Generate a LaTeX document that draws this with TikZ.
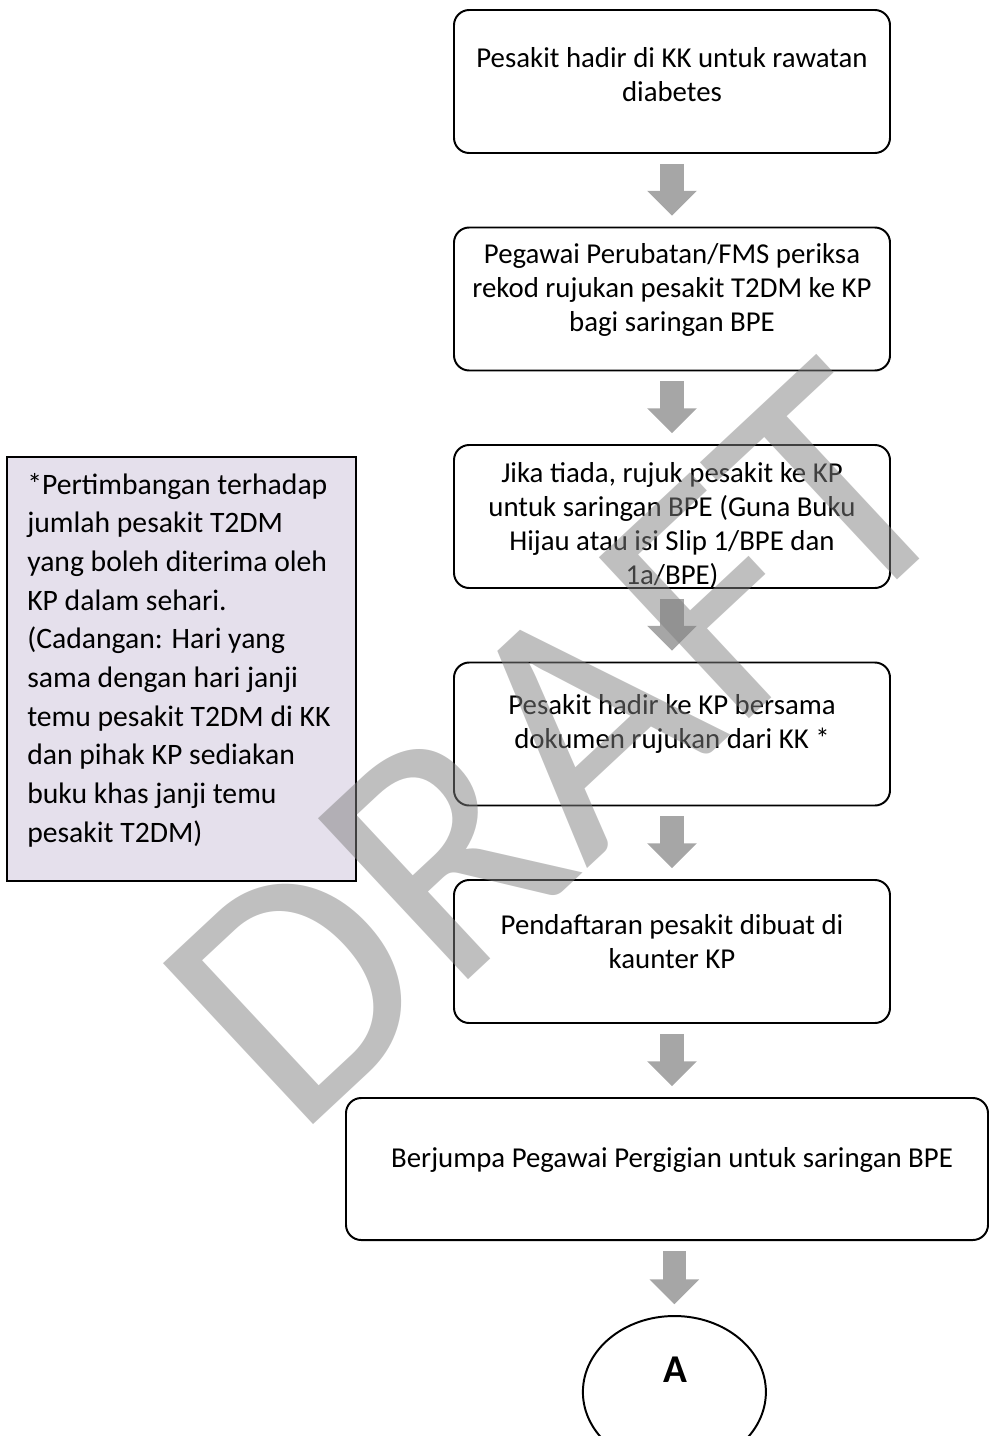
\documentclass[tikz,border=0pt]{standalone}
\usepackage{fontspec}
\setmainfont{Carlito}
\usetikzlibrary{arrows.meta, positioning, shapes.geometric}
\definecolor{arrowgrey}{RGB}{166,166,166}
\definecolor{notelilac}{RGB}{229,224,236}

\begin{document}
\begin{tikzpicture}[
    flowbox/.style={rectangle, draw=black, line width=1.4pt,
                    rounded corners=0.38cm, minimum width=10.9cm,
                    minimum height=3.575cm, inner sep=0pt},
    boxtext/.style={align=center, font=\fontsize{20.5}{24.2}\selectfont,
                    inner sep=0pt},
    notebox/.style={rectangle, draw=black, line width=1.1pt,
                    fill=notelilac, minimum width=8.725cm,
                    minimum height=10.6cm, inner sep=0pt},
    notetext/.style={align=left, font=\fontsize{21.1}{27.5}\selectfont,
                     inner sep=0pt, anchor=west},
    terminal/.style={ellipse, draw=black, line width=1.4pt,
                     minimum width=4.575cm, minimum height=3.8cm,
                     inner sep=0pt},
    bigarrow/.style={-{Triangle[length=6.2mm 0, width=12mm 0]},
                     line width=5.8mm, draw=arrowgrey,
                     shorten <=2.5mm, shorten >=2.7mm},
    watermark/.style={font=\fontsize{244}{244}\selectfont, text=black!50,
                      opacity=0.5, rotate=43, inner sep=0pt},
]
\useasboundingbox (0,0) rectangle (24.75,-35.9);

%---------------------------------------------------------------
% Flow boxes (border and text kept apart)
%---------------------------------------------------------------
\node[flowbox] (b1) at (16.8, -2.0375) {};
\node[boxtext] (t1) at (16.8, -1.86)
     {Pesakit hadir di KK untuk rawatan\\diabetes};

\node[flowbox] (b2) at (16.8, -7.475) {};
\node[boxtext] (t2) at (16.8, -7.25)
     {Pegawai Perubatan/FMS periksa\\rekod rujukan pesakit T2DM ke KP\\bagi saringan BPE};

\node[flowbox] (b3) at (16.8, -12.9125) {};
\node[boxtext] (t3) at (16.8, -13.14)
     {Jika tiada, rujuk pesakit ke KP\\untuk saringan BPE (Guna Buku\\Hijau atau isi Slip 1/BPE dan\\1a/BPE)};

\node[flowbox] (b4) at (16.8, -18.35) {};
\node[boxtext] (t4) at (16.8, -18.09)
     {Pesakit hadir ke KP bersama\\dokumen rujukan dari KK *};

\node[flowbox] (b5) at (16.8, -23.7875) {};
\node[boxtext] (t5) at (16.8, -23.53)
     {Pendaftaran pesakit dibuat di\\kaunter KP};

\node[flowbox, minimum width=16.05cm, minimum height=3.55cm]
     (b6) at (16.675, -29.225) {};
\node[boxtext] (t6) at (16.8, -29.0)
     {Berjumpa Pegawai Pergigian untuk saringan BPE};

% connector "A" at the foot of the page
\node[terminal] (term) at (16.86, -34.8) {};
\node[boxtext, font=\fontsize{28}{30}\selectfont\bfseries] (tA)
     at (16.875, -34.25) {A};

%---------------------------------------------------------------
% Side note
%---------------------------------------------------------------
\node[notebox] (note) at (4.5375, -16.725) {};
\node[notetext] (notetxt) at (0.675, -16.5)
     {*Pertimbangan terhadap\\jumlah pesakit T2DM\\yang boleh diterima oleh\\KP dalam sehari.\\(Cadangan: Hari yang\\sama dengan hari janji\\temu pesakit T2DM di KK\\dan pihak KP sediakan\\buku khas janji temu\\pesakit T2DM)};

%---------------------------------------------------------------
% Block arrows
%---------------------------------------------------------------
\foreach \a/\b in {b1/b2, b2/b3, b3/b4, b4/b5} {
    \draw[bigarrow] (\a.south) -- (\b.north);
}
\draw[bigarrow] (b5.south) -- (b5.south |- b6.north);
\draw[bigarrow] (term.north |- b6.south) -- (term.north);

% watermark on top
\node[watermark] (draft) at (13.95, -18.65) {DRAFT};

\end{tikzpicture}
\end{document}
